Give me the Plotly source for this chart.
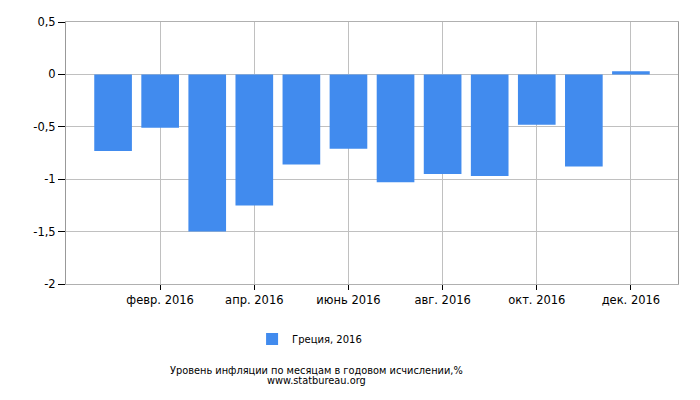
"""Inflation by month, Greece 2016 (statbureau style bar chart)."""

import plotly.graph_objects as go

# Data
months = list(range(1, 13))
inflation_2016 = [-0.73, -0.51, -1.50, -1.25, -0.86, -0.71,
                  -1.03, -0.95, -0.97, -0.48, -0.88, 0.03]
x_tick_vals = [2, 4, 6, 8, 10, 12]
x_tick_text = ["февр. 2016", "апр. 2016", "июнь 2016",
               "авг. 2016", "окт. 2016", "дек. 2016"]
y_tick_vals = [0.5, 0, -0.5, -1, -1.5, -2]
y_tick_text = ["0,5", "0", "-0,5", "-1", "-1,5", "-2"]

series_name = "Греция, 2016"
caption = "Уровень инфляции по месяцам в годовом исчислении,%"
source = "www.statbureau.org"

font_family = "DejaVu Sans, Verdana, sans-serif"

fig = go.Figure(
    data=go.Bar(
        x=months,
        y=inflation_2016,
        name=series_name,
        width=0.8,
        marker={"color": "#418BEE", "line": {"width": 0}},
        showlegend=True,
    )
)

# page body has an 8px margin, so the figure is a bit smaller than the window
fig.update_layout(
    width=692,
    height=392,
    margin={"l": 58, "r": 22, "t": 14, "b": 116, "autoexpand": False},
    paper_bgcolor="white",
    plot_bgcolor="white",
    font={"family": font_family, "size": 11.5, "color": "#000"},
    legend={
        "orientation": "h",
        "x": 0.398,
        "xanchor": "center",
        "y": -0.21,
        "yanchor": "middle",
        "font": {"size": 10},
    },
    annotations=[
        {
            "text": caption,
            "x": 0.41, "y": -0.33, "xref": "paper", "yref": "paper",
            "xanchor": "center", "yanchor": "middle",
            "showarrow": False, "font": {"size": 9.8},
        },
        {
            "text": source,
            "x": 0.41, "y": -0.368, "xref": "paper", "yref": "paper",
            "xanchor": "center", "yanchor": "middle",
            "showarrow": False, "font": {"size": 9.8},
        },
    ],
)

fig.update_xaxes(
    range=[0, 13],
    tickmode="array",
    tickvals=x_tick_vals,
    ticktext=x_tick_text,
    ticks="outside",
    ticklen=5,
    tickcolor="#000",
    showgrid=True,
    gridcolor="#c0c0c0",
    showline=True,
    linecolor="#b0b0b0",
    mirror=True,
    zeroline=False,
)

fig.update_yaxes(
    range=[-2, 0.5],
    tickmode="array",
    tickvals=y_tick_vals,
    ticktext=y_tick_text,
    ticks="outside",
    ticklen=7,
    tickcolor="#000",
    showgrid=True,
    gridcolor="#c0c0c0",
    showline=True,
    linecolor="#999",
    mirror=True,
    zeroline=False,
)

fig.write_html("out.html")
